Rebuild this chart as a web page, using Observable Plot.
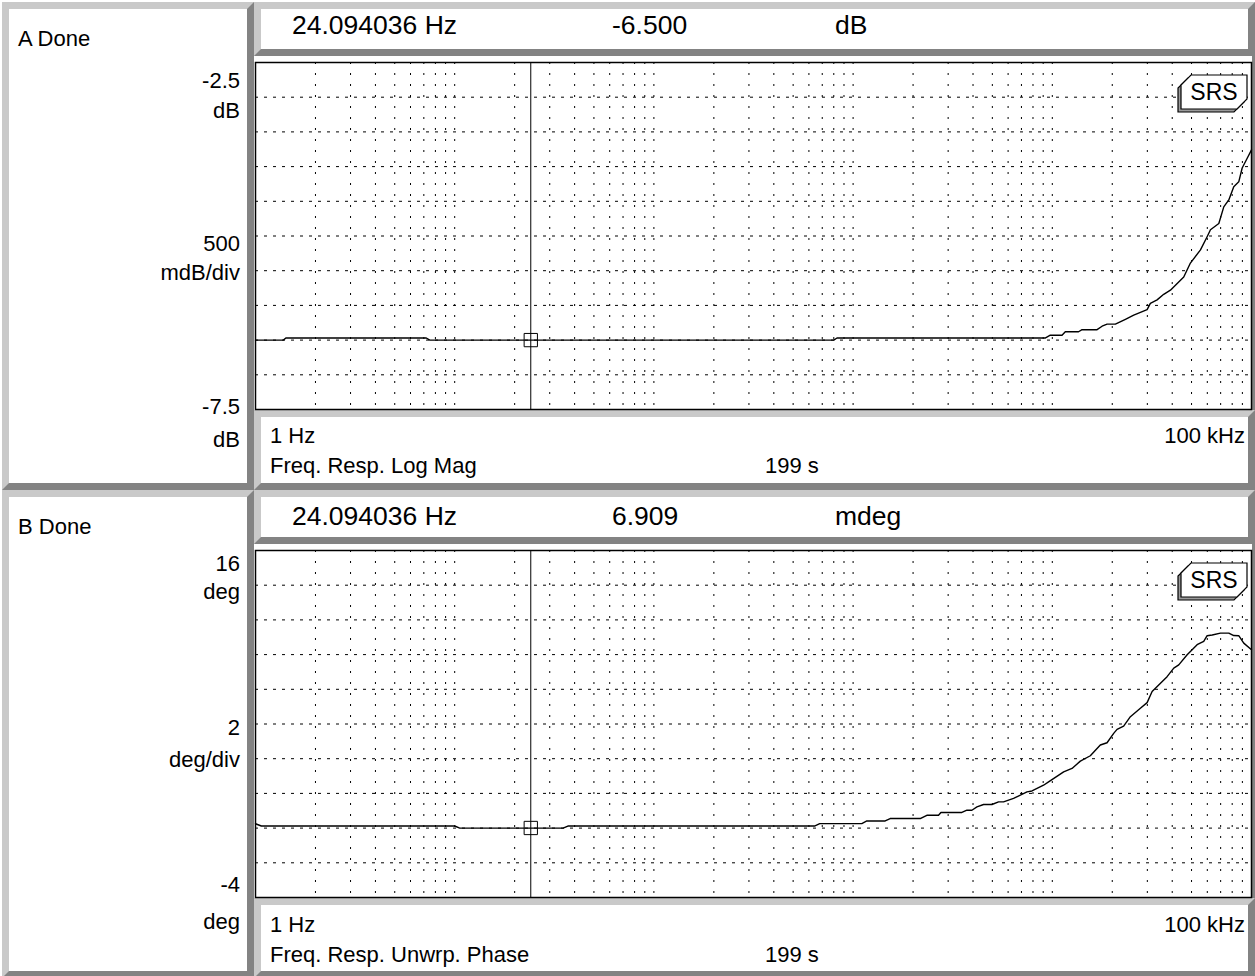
<!DOCTYPE html>
<html><head><meta charset="utf-8">
<script src="https://cdn.jsdelivr.net/npm/d3@7"></script>
<script src="https://cdn.jsdelivr.net/npm/@observablehq/plot@0.6"></script>
<style>
body{margin:0;background:#fff;font-family:"Liberation Sans",Arial,Helvetica,sans-serif;color:#000}
#root{position:relative;width:1255px;height:976px;overflow:hidden;background:#fff}
.panel{position:absolute;box-sizing:border-box;border:7px solid;border-color:#c9c9c9 #838383 #838383 #c9c9c9;background:#fff}
.plotbox{position:absolute}
#overlay{position:absolute;left:0;top:0;pointer-events:none}
</style></head><body><div id="root"></div>
<script>
// ---- data ----
const magFreq = [1, 1.38, 1.42, 7.2, 7.5, 800, 830, 9200, 9770, 11190, 11620, 13550, 14100, 16780, 17780, 18840, 20730, 23280, 25630, 29920, 31060, 33580, 36250, 39170, 45700, 49350, 55440, 59870, 62230, 68540, 72580, 76920, 81460, 86300, 89780, 95150, 100000];
const magDb = [-6.50, -6.50, -6.47, -6.47, -6.50, -6.50, -6.47, -6.47, -6.43, -6.43, -6.38, -6.38, -6.35, -6.35, -6.30, -6.27, -6.27, -6.20, -6.14, -6.06, -5.97, -5.92, -5.84, -5.78, -5.59, -5.39, -5.20, -5.01, -4.91, -4.82, -4.58, -4.48, -4.29, -4.22, -4.02, -3.88, -3.76];

const phaseFreq = [1, 1.07, 10, 10.6, 35, 37, 640, 680, 1106, 1172, 1449, 1535, 2172, 2345, 2684, 2760, 3517, 3727, 3948, 4185, 4518, 4977, 5373, 5690, 6392, 7463, 7906, 9039, 9579, 11400, 12560, 13830, 15520, 17420, 18830, 20330, 21140, 22810, 24660, 27680, 29920, 31700, 37690, 40720, 43130, 47530, 53330, 57560, 59870, 63480, 69860, 76920, 81460, 86300, 91440, 100000];
const phaseDeg = [0.25, 0.12, 0.12, 0.0, 0.0, 0.12, 0.12, 0.26, 0.26, 0.41, 0.41, 0.55, 0.55, 0.74, 0.74, 0.90, 0.90, 1.03, 1.03, 1.22, 1.36, 1.36, 1.51, 1.51, 1.71, 2.09, 2.14, 2.47, 2.66, 3.24, 3.44, 3.86, 4.17, 4.79, 4.92, 5.46, 5.69, 5.88, 6.42, 6.91, 7.23, 7.87, 8.73, 9.22, 9.41, 9.99, 10.57, 10.76, 11.09, 11.13, 11.24, 11.24, 11.10, 11.09, 10.66, 10.28];

const cursorFreq = 24.094036;
const cursorMag = -6.500;
const cursorPhase = 0.006909;

const magDomain = [-7.5, -2.5];
const phaseDomain = [-4, 16];
const magGrid = [-7.0, -6.5, -6.0, -5.5, -5.0, -4.5, -4.0, -3.5, -3.0];
const phaseGrid = [-2, 0, 2, 4, 6, 8, 10, 12, 14];
const gridMantissas = [1, 2, 3, 4, 5, 6, 7, 8, 9];
const gridDecades = [1, 10, 100, 1000, 10000];

const magTickLabels = ["-2.5", "dB", "500", "mdB/div", "-7.5", "dB"];
const phaseTickLabels = ["16", "deg", "2", "deg/div", "-4", "deg"];
const headerA = ["24.094036 Hz", "-6.500", "dB"];
const headerB = ["24.094036 Hz", "6.909", "mdeg"];
const footerA = ["1 Hz", "100 kHz", "Freq. Resp. Log Mag", "199 s"];
const footerB = ["1 Hz", "100 kHz", "Freq. Resp. Unwrp. Phase", "199 s"];
const panelNames = ["A Done", "B Done"];

// ---- layout ----
const root = document.getElementById("root");
function panel(l, t, w, h) {
  const d = document.createElement("div");
  d.className = "panel";
  Object.assign(d.style, {left: l + "px", top: t + "px", width: w + "px", height: h + "px"});
  root.appendChild(d);
}
const gridFreqs = [];
for (const dec of gridDecades) for (const m of gridMantissas) { const f = m * dec; if (f > 1) gridFreqs.push(f); }

function makePlot(freqs, vals, yDomain, gridY, cursorVal) {
  const data = freqs.map((f, i) => ({f, v: vals[i]}));
  return Plot.plot({
    width: 997, height: 348,
    marginLeft: 0, marginTop: 0, marginRight: 1, marginBottom: 1,
    x: {type: "log", domain: [1, 1e5], axis: null},
    y: {domain: yDomain, axis: null},
    style: {background: "white", overflow: "visible"},
    marks: [
      Plot.ruleX(gridFreqs, {stroke: "#000", strokeWidth: 1, strokeDasharray: "2,9"}),
      Plot.ruleY(gridY, {stroke: "#000", strokeWidth: 1, strokeDasharray: "3,6"}),
      Plot.line(data, {x: "f", y: "v", stroke: "#000", strokeWidth: 1.4}),
      Plot.ruleX([cursorFreq], {stroke: "#000", strokeWidth: 1}),
      Plot.dot([{f: cursorFreq, v: cursorVal}], {x: "f", y: "v", symbol: "square", r: 7.5, stroke: "#000", fill: "none", strokeWidth: 1}),
      Plot.frame({stroke: "#000", strokeWidth: 1.5})
    ]
  });
}

const panels = [
  {oy: 0, freqs: magFreq, vals: magDb, dom: magDomain, grid: magGrid, cur: cursorMag,
   ticks: magTickLabels, tickY: [88, 118, 251, 280, 414, 447], head: headerA, headY: 34, foot: footerA, footY: [443, 473]},
  {oy: 488, freqs: phaseFreq, vals: phaseDeg, dom: phaseDomain, grid: phaseGrid, cur: cursorPhase,
   ticks: phaseTickLabels, tickY: [571, 599, 735, 767, 892, 929], head: headerB, headY: 525, foot: footerB, footY: [932, 962]}
];

const NS = "http://www.w3.org/2000/svg";
const overlay = document.createElementNS(NS, "svg");
overlay.setAttribute("id", "overlay");
overlay.setAttribute("width", 1255);
overlay.setAttribute("height", 976);

function txt(x, y, s, size, anchor) {
  const t = document.createElementNS(NS, "text");
  t.setAttribute("x", x); t.setAttribute("y", y);
  t.setAttribute("font-size", size);
  t.setAttribute("font-family", "Liberation Sans, Arial, Helvetica, sans-serif");
  t.setAttribute("fill", "#000");
  if (anchor) t.setAttribute("text-anchor", anchor);
  t.textContent = s;
  overlay.appendChild(t);
}
function poly(pts, fill) {
  const p = document.createElementNS(NS, "polygon");
  p.setAttribute("points", pts.map(d => d.join(",")).join(" "));
  p.setAttribute("fill", fill);
  p.setAttribute("stroke", "#000");
  p.setAttribute("stroke-width", 1.2);
  overlay.appendChild(p);
}
function logo(ox, oy) {
  const main = [[16,3],[72,3],[72,27],[62,37],[6,37],[6,13]];
  poly(main.map(([x, y]) => [ox + x - 3, oy + y + 3]), "#9a9a9a");
  poly(main.map(([x, y]) => [ox + x, oy + y]), "#fff");
  txt(ox + 39, oy + 28, "SRS", 23, "middle");
}

panels.forEach((p, i) => {
  const oy = p.oy;
  panel(2, 2 + oy, 252, 488);           // left label panel
  panel(254, 2 + oy, 1001, 54);         // header
  panel(254, 410 + oy, 1001, 80);       // footer
  const strip = document.createElement("div");
  Object.assign(strip.style, {position: "absolute", left: "1252px", top: (56 + oy) + "px", width: "3px", height: "354px", background: "#838383"});
  root.appendChild(strip);
  const chart = makePlot(p.freqs, p.vals, p.dom, p.grid, p.cur);
  const box = document.createElement("div");
  box.className = "plotbox";
  Object.assign(box.style, {left: "255px", top: (62 + oy) + "px"});
  box.appendChild(chart);
  root.appendChild(box);

  txt(18, 46 + oy, panelNames[i], 22);
  p.ticks.forEach((s, k) => txt(240, p.tickY[k], s, 22, "end"));
  txt(292, p.headY, p.head[0], 26.5);
  txt(612, p.headY, p.head[1], 26.5);
  txt(835, p.headY, p.head[2], 26.5);
  txt(270, p.footY[0], p.foot[0], 22);
  txt(1245, p.footY[0], p.foot[1], 22, "end");
  txt(270, p.footY[1], p.foot[2], 22);
  txt(765, p.footY[1], p.foot[3], 22);
  logo(1175, 72 + oy);
});
root.appendChild(overlay);
</script></body></html>
